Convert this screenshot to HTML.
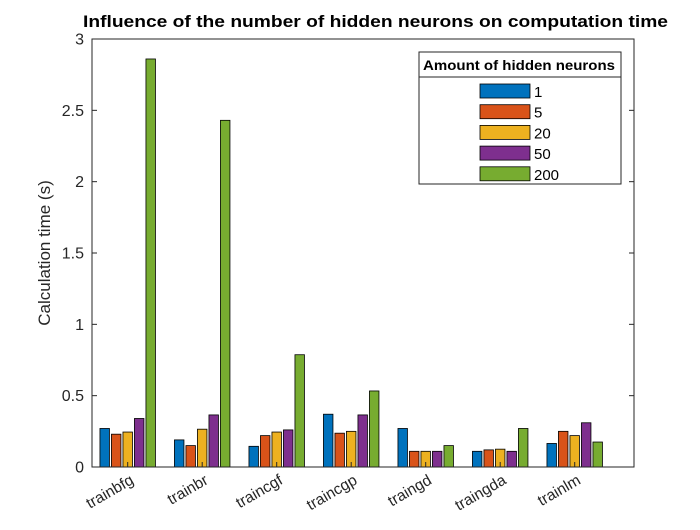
<!DOCTYPE html>
<html><head><meta charset="utf-8"><style>
body{margin:0;background:#fff;font-family:"Liberation Sans",sans-serif}
</style></head><body>
<svg width="700" height="525" viewBox="0 0 700 525" id="chart" font-family="Liberation Sans, sans-serif">
<rect width="700" height="525" fill="#fff"/>
<text x="83" y="27" textLength="585" lengthAdjust="spacingAndGlyphs" font-size="17" font-weight="bold" fill="#000">Influence of the number of hidden neurons on computation time</text>
<text transform="translate(50,253) rotate(-90)" text-anchor="middle" font-size="17" fill="#262626">Calculation time (s)</text>
<g id="bars"></g>
<g id="axes"></g>
<g>
<rect x="419" y="52" width="202" height="132" fill="#fff" stroke="#262626" stroke-width="1"/>
<line x1="419" y1="77" x2="621" y2="77" stroke="#262626"/>
<text x="423" y="70" textLength="192" lengthAdjust="spacingAndGlyphs" font-size="14" font-weight="bold" fill="#000">Amount of hidden neurons</text>
<g id="legend-items"></g>
</g>
</svg>
<script>
const categories=["trainbfg","trainbr","traincgf","traincgp","traingd","traingda","trainlm"];
const seriesNames=["1","5","20","50","200"];
const s1=[0.27,0.19,0.145,0.37,0.27,0.11,0.165];
const s5=[0.23,0.15,0.22,0.237,0.11,0.12,0.25];
const s20=[0.245,0.265,0.245,0.25,0.11,0.125,0.22];
const s50=[0.34,0.365,0.26,0.365,0.11,0.11,0.31];
const s200=[2.86,2.43,0.787,0.533,0.15,0.27,0.175];
const yTicks=[0,0.5,1,1.5,2,2.5,3];
const yTickLabels=["0","0.5","1","1.5","2","2.5","3"];
const series=[s1,s5,s20,s50,s200];
const colors=["#0072BD","#D95319","#EDB120","#7E2F8E","#77AC30"];
const NS="http://www.w3.org/2000/svg";
const X0=92,X1=634,Y0=467,Y1=39;
const y=v=>Y0-(v/3)*(Y0-Y1);
const x=i=>127.7+i*74.5;
const off=[-23,-11.5,0,11.5,23],bw=9.5;
const bars=document.getElementById('bars');
function mk(t,a,p){const e=document.createElementNS(NS,t);for(const k in a)e.setAttribute(k,a[k]);p.appendChild(e);return e;}
series.forEach((s,si)=>s.forEach((v,ci)=>{
 const r=mk('rect',{x:x(ci)+off[si]-bw/2,y:y(v),width:bw,height:Y0-y(v),fill:colors[si],stroke:'#000','stroke-width':0.8},bars);
 
 
}));
const ax=document.getElementById('axes');
mk('rect',{x:X0,y:Y1,width:X1-X0,height:Y0-Y1,fill:'none',stroke:'#262626','stroke-width':1},ax);
yTicks.forEach((t,i)=>{
 mk('line',{x1:X0,x2:X0+5,y1:y(t),y2:y(t),stroke:'#262626'},ax);
 mk('line',{x1:X1,x2:X1-5,y1:y(t),y2:y(t),stroke:'#262626'},ax);
 const tx=mk('text',{x:X0-8,y:y(t)+5.5,'text-anchor':'end','font-size':16,fill:'#262626'},ax);
 tx.textContent=yTickLabels[i];
 
 
});
categories.forEach((c,i)=>{
 mk('line',{x1:x(i),x2:x(i),y1:Y0,y2:Y0-5,stroke:'#262626'},ax);
 const tx=mk('text',{transform:`translate(${x(i)+7},${Y0+16}) rotate(-30)`,'text-anchor':'end','font-size':15.5,fill:'#262626'},ax);
 tx.textContent=c;
 
 
});
const lg=document.getElementById('legend-items');
seriesNames.forEach((n,i)=>{
 const yy=84+i*20.7;
 const r=mk('rect',{x:480,y:yy,width:50,height:14,fill:colors[i],stroke:'#000','stroke-width':0.8},lg);
 
 
 const t=mk('text',{x:534,y:yy+13,'font-size':15,fill:'#000'},lg);
 t.textContent=n;
 
 
});
</script>
</body></html>
